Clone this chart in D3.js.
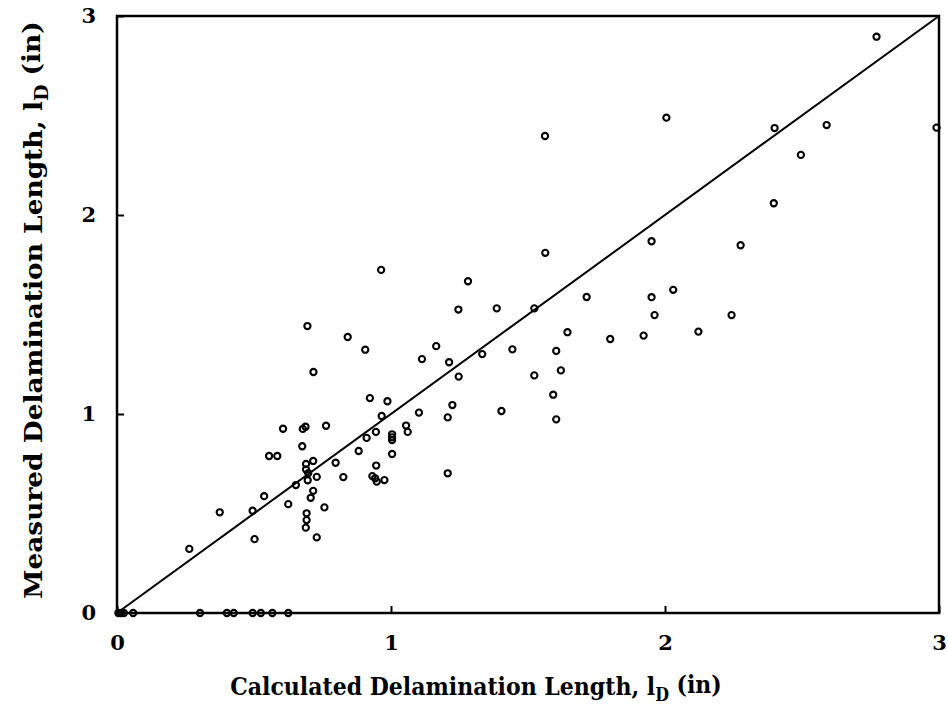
<!DOCTYPE html>
<html>
<head>
<meta charset="utf-8">
<script src="https://cdn.jsdelivr.net/npm/d3@7/dist/d3.min.js"></script>
<style>
  html, body { margin: 0; padding: 0; background: #fff; }
  svg { display: block; }
  text { font-family: "DejaVu Serif", "Liberation Serif", serif; font-weight: bold; fill: #000; }
</style>
</head>
<body>
<svg id="chart" width="948" height="713"></svg>
<script>
// ---- Data ----
const xTicks = [0, 1, 2, 3];
const yTicks = [0, 1, 2, 3];
const xTickLabels = ["0", "1", "2", "3"];
const yTickLabels = ["0", "1", "2", "3"];

// Calculated delamination length (x) and measured delamination length (y), inches
const calculated = [
  0.005, 0.015, 0.025, 0.059, 0.303, 0.401, 0.426, 0.495, 0.525, 0.567, 0.625,
  0.264, 0.375, 0.495, 0.502, 0.537, 0.555, 0.585, 0.606, 0.625, 0.653,
  0.676, 0.678, 0.688, 0.690, 0.690, 0.698, 0.696, 0.716, 0.729, 0.716,
  0.707, 0.692, 0.692, 0.689, 0.729, 0.757, 0.763, 0.798, 0.826, 0.882,
  0.911, 0.945, 0.946, 0.932, 0.942, 0.948, 0.976, 0.923, 0.987, 0.966,
  1.004, 1.004, 1.004, 1.004, 1.055, 1.061, 1.102, 1.207, 1.224, 1.207,
  1.403, 1.247, 1.113, 1.165, 1.212, 1.246, 1.281, 1.333, 1.386, 1.443,
  1.523, 1.523, 1.592, 1.603, 1.603, 1.620, 1.644, 1.714, 1.800, 1.922,
  1.951, 1.962, 2.030, 2.122, 2.243, 1.951, 2.276, 2.397, 2.496, 2.400,
  2.590, 2.991, 2.005, 2.772, 1.562, 1.563, 0.964, 0.695, 0.842, 0.906,
  0.717
];
const measured = [
  0, 0, 0, 0, 0, 0, 0, 0, 0, 0, 0,
  0.322, 0.506, 0.514, 0.371, 0.587, 0.789, 0.789, 0.926, 0.547, 0.643,
  0.838, 0.925, 0.936, 0.749, 0.721, 0.703, 0.667, 0.764, 0.684, 0.614,
  0.579, 0.501, 0.467, 0.429, 0.380, 0.531, 0.941, 0.755, 0.683, 0.814,
  0.880, 0.910, 0.741, 0.688, 0.677, 0.660, 0.668, 1.080, 1.064, 0.990,
  0.898, 0.883, 0.869, 0.799, 0.942, 0.910, 1.007, 0.983, 1.045, 0.702,
  1.015, 1.188, 1.276, 1.341, 1.260, 1.525, 1.667, 1.301, 1.531, 1.325,
  1.531, 1.194, 1.097, 0.973, 1.317, 1.219, 1.411, 1.588, 1.377, 1.394,
  1.587, 1.497, 1.624, 1.414, 1.497, 1.868, 1.848, 2.059, 2.302, 2.437,
  2.452, 2.439, 2.489, 2.896, 2.397, 1.810, 1.724, 1.442, 1.387, 1.323,
  1.211
];
// line of perfect agreement
const equalityLine = [[0, 0], [3, 3]];

const xTitle = "Calculated Delamination Length, ";
const yTitle = "Measured Delamination Length, ";

// ---- Layout ----
const svg = d3.select("#chart");
const padL = 117, padR = 939, padT = 16, padB = 613;

const x = d3.scaleLinear().domain([0, 3]).range([padL, padR]);
const y = d3.scaleLinear().domain([0, 3]).range([padB, padT]);

const points = calculated.map((c, i) => ({ c, m: measured[i] }));

// equality line
svg.append("path")
  .datum(equalityLine)
  .attr("d", d3.line().x(d => x(d[0])).y(d => y(d[1])))
  .attr("fill", "none")
  .attr("stroke", "#000")
  .attr("stroke-width", 2);

// axes (inward ticks)
const gx = svg.append("g")
  .attr("transform", `translate(0,${padB})`)
  .call(d3.axisBottom(x).tickValues(xTicks).tickFormat((d, i) => xTickLabels[i])
    .tickSizeInner(-7).tickSizeOuter(0).tickPadding(22));
const gy = svg.append("g")
  .attr("transform", `translate(${padL},0)`)
  .call(d3.axisLeft(y).tickValues(yTicks).tickFormat((d, i) => yTickLabels[i])
    .tickSizeInner(-7).tickSizeOuter(0).tickPadding(21));
[gx, gy].forEach(g => {
  g.select(".domain").remove();
  g.selectAll(".tick line").attr("stroke", "#000").attr("stroke-width", 2);
  g.selectAll(".tick text")
    .attr("font-family", '"DejaVu Serif", serif')
    .attr("font-weight", "bold")
    .attr("font-size", 21)
    .attr("fill", "#000");
});

// frame
svg.append("rect")
  .attr("x", padL).attr("y", padT)
  .attr("width", padR - padL).attr("height", padB - padT)
  .attr("fill", "none").attr("stroke", "#000").attr("stroke-width", 2.5);

// points
svg.append("g")
  .selectAll("circle")
  .data(points)
  .join("circle")
  .attr("cx", d => x(d.c))
  .attr("cy", d => y(d.m))
  .attr("r", 3.1)
  .attr("fill", "none")
  .attr("stroke", "#000")
  .attr("stroke-width", 2.1);

// axis titles
function title(g, main) {
  g.append("tspan").text(main);
  g.append("tspan").text("l");
  g.append("tspan").text("D").attr("font-size", "0.72em").attr("dy", "0.35em");
  g.append("tspan").text(" (in)").attr("dy", "-0.35em");
}
const xg = svg.append("g");
const xt = xg.append("text")
  .attr("text-anchor", "middle")
  .attr("font-size", 25);
title(xt, xTitle);

const yg = svg.append("g");
const yt = yg.append("text")
  .attr("text-anchor", "middle")
  .attr("font-size", 25);
title(yt, yTitle);

// condense the titles horizontally to the reference extents
function fit(g, t, target, tx, ty, rot) {
  const w = t.node().getComputedTextLength();
  const sx = target / w;
  g.attr("transform", `translate(${tx},${ty}) rotate(${rot}) scale(${sx},1)`);
}
fit(xg, xt, 492, 476, 695, 0);
fit(yg, yt, 578, 42, 310, -90);
</script>
</body>
</html>
